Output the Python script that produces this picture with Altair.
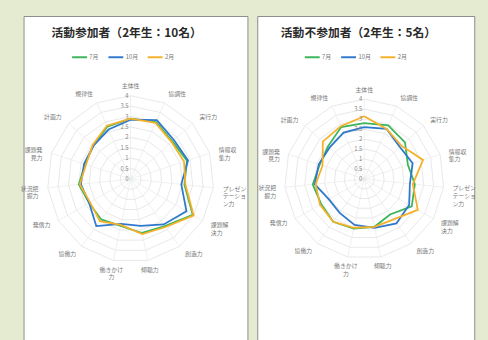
import altair as alt
import pandas as pd

# ---------------- data ----------------
categories = ["主体性", "協調性", "実行力", "情報収\n集力", "プレゼン\nテーショ\nン力",
              "課題解\n決力", "創造力", "傾聴力", "働きかけ\n力", "協働力",
              "発信力", "状況把\n握力", "課題発\n見力", "計画力", "規律性"]
months = ["7月", "10月", "2月"]
colors = ["#3cb55a", "#2f78cc", "#f5b12a"]
tick_values = [0, 0.5, 1, 1.5, 2, 2.5, 3, 3.5, 4]
ring_levels = [0.5, 1, 1.5, 2, 2.5, 3, 3.5, 4]

title_left = "活動参加者（2年生：10名）"
left_jul = [2.9, 3.0, 2.7, 2.85, 2.6, 3.45, 2.8, 2.65, 2.3, 2.4, 2.3, 2.5, 2.3, 2.4, 2.75]
left_oct = [2.85, 3.1, 2.8, 2.9, 2.45, 3.1, 2.7, 2.3, 2.2, 2.8, 2.3, 2.4, 2.35, 2.4, 2.6]
left_feb = [2.9, 2.95, 2.65, 2.7, 2.65, 3.5, 2.85, 2.7, 2.25, 2.5, 2.25, 2.45, 2.25, 2.45, 2.8]

title_right = "活動不参加者（2年生：5名）"
right_jul = [2.8, 2.95, 2.75, 2.3, 2.55, 2.75, 2.2, 2.45, 2.55, 2.65, 2.5, 2.6, 2.35, 2.45, 2.85]
right_oct = [2.6, 2.75, 2.4, 2.55, 2.3, 2.6, 2.75, 2.5, 2.35, 2.1, 2.05, 2.5, 2.4, 2.35, 2.55]
right_feb = [3.15, 2.75, 2.5, 3.1, 2.45, 3.1, 2.5, 2.45, 2.5, 2.65, 2.57, 2.45, 2.2, 2.8, 2.9]

FONT = "Noto Sans CJK JP"
N = len(categories)
H = 345


def radar(title, series, width, cx, cy, unit, title_x, legend_x):
    xs = alt.Scale(domain=[-cx / unit, (width - cx) / unit], nice=False, zero=False)
    ys = alt.Scale(domain=[-(H - cy) / unit, cy / unit], nice=False, zero=False)
    X = lambda f: alt.X(f, type="quantitative", scale=xs, axis=None)
    Y = lambda f: alt.Y(f, type="quantitative", scale=ys, axis=None)

    rows = []
    for m, vals in zip(months, series):
        for i in range(N + 1):
            rows.append({"month": m, "idx": i, "v": vals[i % N]})
    sdf = pd.DataFrame(rows)

    rdf = pd.DataFrame([{"level": lv, "idx": i} for lv in ring_levels for i in range(N + 1)])
    adf = pd.DataFrame({"idx": list(range(N)), "cat": categories})
    tdf = pd.DataFrame({"t": tick_values, "lab": [str(t) for t in tick_values]})

    ang = "2*PI*datum.idx/15"

    rings = alt.Chart(rdf).transform_calculate(
        x=f"datum.level*sin({ang})", y=f"datum.level*cos({ang})"
    ).mark_line(color="#dedede", strokeWidth=0.7).encode(
        x=X("x"), y=Y("y"), detail="level:N", order="idx:Q")

    spokes = alt.Chart(adf).transform_calculate(
        x0="0", y0="0", xe=f"4*sin({ang})", ye=f"4*cos({ang})"
    ).mark_rule(color="#e6e6e6", strokeWidth=0.6).encode(
        x=X("x0"), y=Y("y0"), x2="xe:Q", y2="ye:Q")

    lines = alt.Chart(sdf).transform_calculate(
        x=f"datum.v*sin({ang})", y=f"datum.v*cos({ang})"
    ).mark_line(strokeWidth=1.8).encode(
        x=X("x"), y=Y("y"), order="idx:Q",
        color=alt.Color("month:N", scale=alt.Scale(domain=months, range=colors),
                        legend=alt.Legend(orient="none", legendX=legend_x, legendY=33,
                                          direction="horizontal", title=None,
                                          symbolType="stroke", symbolStrokeWidth=2,
                                          symbolSize=230, labelFontSize=6,
                                          labelFont=FONT, labelColor="#777",
                                          columnPadding=5, labelOffset=1, padding=0)))

    lab_base = alt.Chart(adf).transform_calculate(
        s=f"sin({ang})", x=f"4.45*sin({ang})", y=f"4.45*cos({ang})")
    labs = []
    for cond, al in [("datum.s > 0.3", "left"), ("datum.s < -0.3", "right"),
                     ("abs(datum.s) <= 0.3", "center")]:
        labs.append(lab_base.transform_filter(cond).mark_text(
            align=al, baseline="middle", lineBreak="\n", font=FONT, fontSize=6,
            color="#777", lineHeight=8).encode(x=X("x"), y=Y("y"), text="cat:N"))

    ticks = alt.Chart(tdf).transform_calculate(x0="0").mark_text(
        align="right", baseline="middle", dx=-2, font=FONT, fontSize=6, color="#888"
    ).encode(x=X("x0"), y=Y("t"), text="lab:N")

    ttl = alt.Chart(pd.DataFrame({"t": [title]})).mark_text(
        font=FONT, fontSize=12, fontWeight="bold", color="#2a2a2a",
        align="center", baseline="middle"
    ).encode(x=alt.value(title_x), y=alt.value(17), text="t:N")

    return alt.layer(rings, spokes, lines, *labs, ticks, ttl).properties(
        width=width, height=H)


left = radar(title_left, [left_jul, left_oct, left_feb], 228, 109, 166, 21.2, 105, 48)
right = radar(title_right, [right_jul, right_oct, right_feb], 221, 109, 166, 20.3, 103, 47)

chart = alt.hconcat(left, right, spacing=8).resolve_scale(
    x="independent", y="independent", color="independent"
).resolve_legend(color="independent").properties(
    padding={"left": 20, "top": 12, "right": 11, "bottom": 0},
    background="#e4ebd0",
).configure_view(stroke="#8c8c8c", strokeWidth=1, fill="white")

chart.save("out.html", embed_options={"renderer": "svg", "actions": False})
